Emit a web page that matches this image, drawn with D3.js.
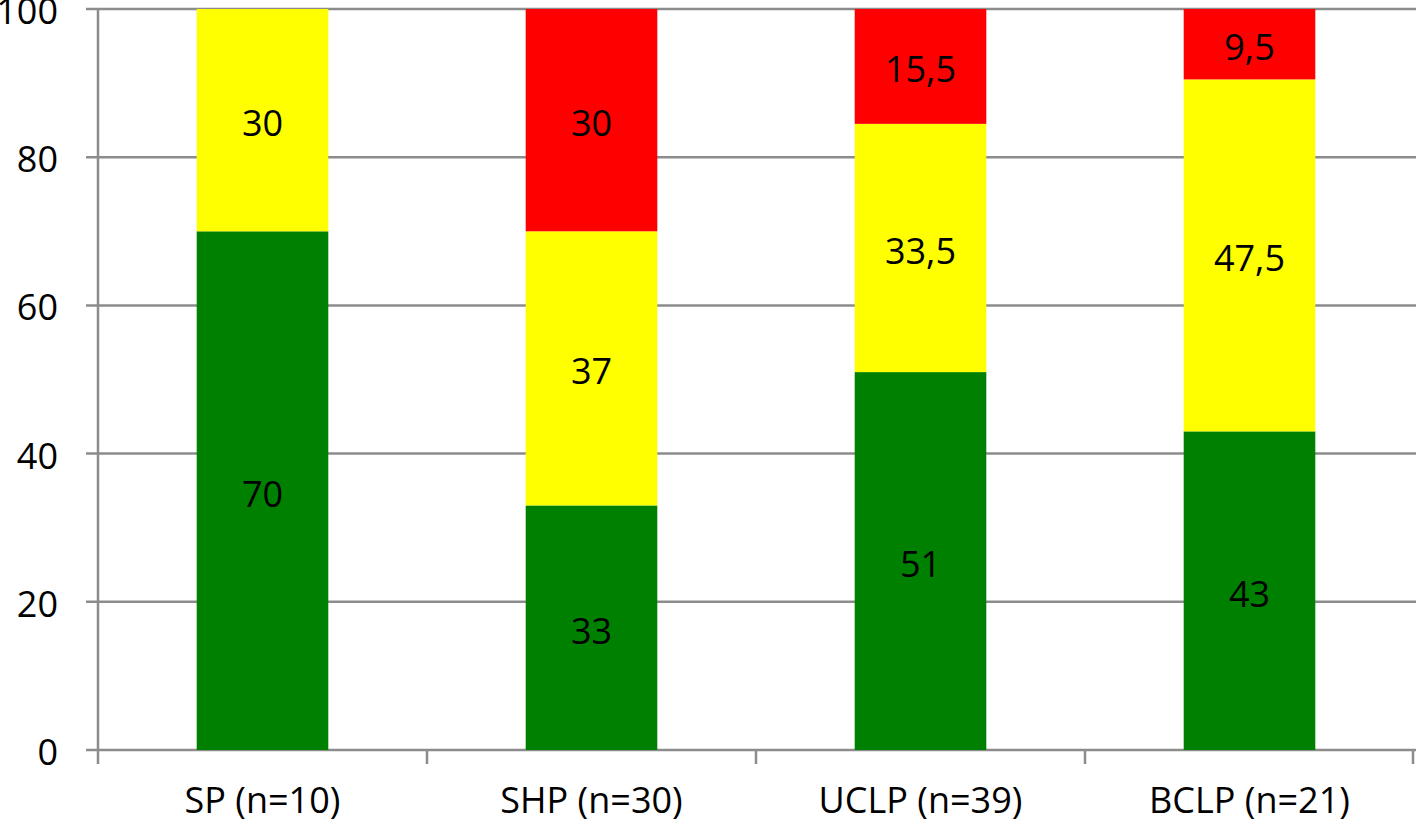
<!DOCTYPE html>
<html><head><meta charset="utf-8">
<script src="https://cdn.jsdelivr.net/npm/d3@7/dist/d3.min.js"></script>
<style>body{margin:0;background:#fff}svg{display:block}text{font-family:"Open Sans",Lato,sans-serif}</style>
</head><body>
<svg id="c" width="1416" height="826"></svg>
<script>
const categories = ["SP (n=10)", "SHP (n=30)", "UCLP (n=39)", "BCLP (n=21)"];
const green = [70, 33, 51, 43];
const yellow = [30, 37, 33.5, 47.5];
const red = [0, 30, 15.5, 9.5];
const yTicks = [0, 20, 40, 60, 80, 100];
const seriesNames = ["green", "yellow", "red"];
const colors = {green: "#008000", yellow: "#FFFF00", red: "#FF0000"};

const svg = d3.select("#c");
const m = {l: 98, r: 2, t: 9, b: 76};
const W = 1416, H = 826;
const FS = 36;
const x = d3.scaleBand().domain(categories).range([m.l, W - m.r]).paddingInner(0.6).paddingOuter(0.3);
const xb = d3.scaleBand().domain(categories).range([m.l, W - m.r]);
const y = d3.scaleLinear().domain([0, 100]).range([H - m.b, m.t]);

// gridlines
svg.append("g").selectAll("line").data(yTicks).join("line")
  .attr("x1", m.l - 12).attr("x2", W).attr("y1", d => y(d)).attr("y2", d => y(d))
  .attr("stroke", "#8c8c8c").attr("stroke-width", 2.5);
// y axis line
svg.append("line").attr("x1", m.l).attr("x2", m.l).attr("y1", y(100)).attr("y2", y(0) + 14)
  .attr("stroke", "#8c8c8c").attr("stroke-width", 2.5);
// x category ticks
const bounds = categories.map(c => xb(c)).concat([W - m.r - 1]);
svg.append("g").selectAll("line").data(bounds.slice(1)).join("line")
  .attr("x1", d => d).attr("x2", d => d).attr("y1", y(0)).attr("y2", y(0) + 14)
  .attr("stroke", "#8c8c8c").attr("stroke-width", 2.5);

// y labels
svg.append("g").selectAll("text").data(yTicks).join("text")
  .attr("x", 58).attr("y", d => y(d) + 2).attr("dy", "0.36em").attr("text-anchor", "end")
  .attr("font-size", FS).attr("fill", "#000").text(d => d);

// stacks
const rows = categories.map((c, i) => ({cat: c, green: green[i], yellow: yellow[i], red: red[i]}));
const stack = d3.stack().keys(seriesNames)(rows);
const fmt = v => String(v).replace(".", ",");
const g = svg.append("g");
stack.forEach(s => {
  g.selectAll(null).data(s).join("rect")
    .attr("x", d => x(d.data.cat)).attr("width", x.bandwidth())
    .attr("y", d => y(d[1])).attr("height", d => y(d[0]) - y(d[1]))
    .attr("fill", colors[s.key]);
  g.selectAll(null).data(s.filter(d => d[1] - d[0] > 0)).join("text")
    .attr("x", d => x(d.data.cat) + x.bandwidth() / 2)
    .attr("y", d => y((d[0] + d[1]) / 2) + 3).attr("dy", "0.36em")
    .attr("text-anchor", "middle").attr("font-size", FS).attr("fill", "#000")
    .text(d => fmt(d.data[s.key]));
});

// x labels
svg.append("g").selectAll("text").data(categories).join("text")
  .attr("x", d => xb(d) + xb.bandwidth() / 2).attr("y", 813)
  .attr("text-anchor", "middle").attr("font-size", FS).attr("fill", "#000").text(d => d);
</script>
</body></html>
